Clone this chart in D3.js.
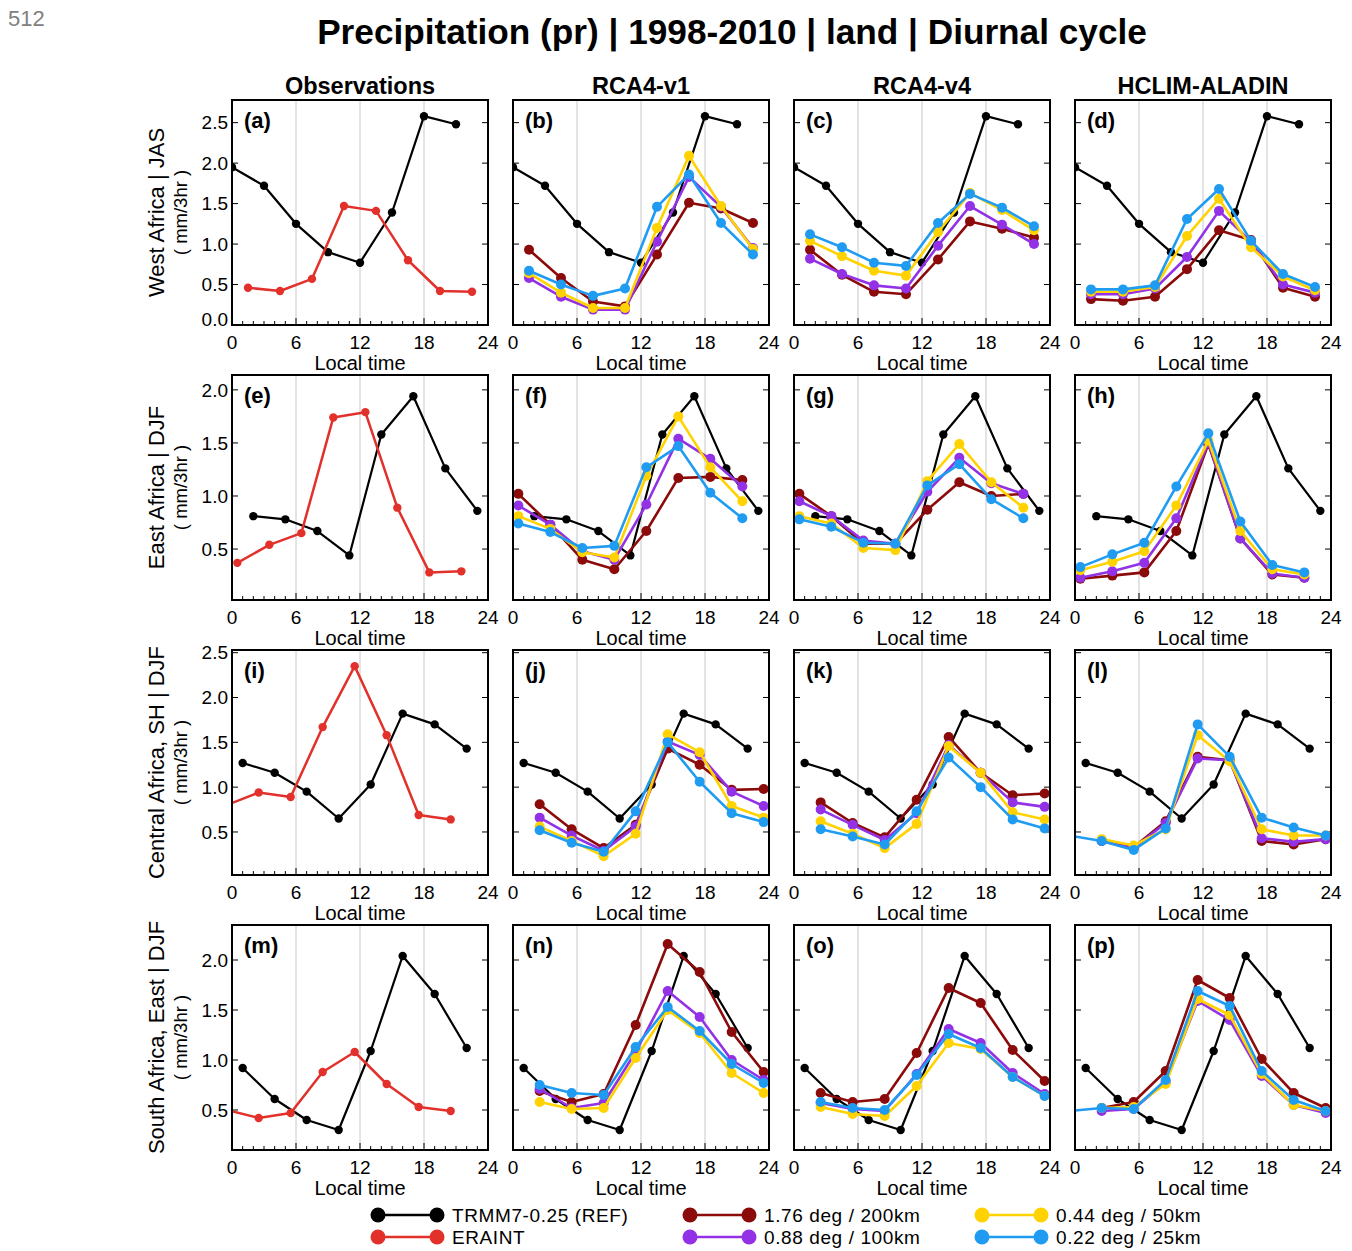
<!DOCTYPE html>
<html>
<head>
<meta charset="utf-8">
<script src="https://cdn.jsdelivr.net/npm/d3@7"></script>
<style>
    body { margin: 0; background: #fff; }
    svg text { font-family: "Liberation Sans", Arial, Helvetica, sans-serif; fill: #000; }
</style>
</head>
<body>
<svg id="chart" width="1352" height="1251"></svg>
<script>
// ---- data ----
const regions = ['West Africa | JAS', 'East Africa | DJF', 'Central Africa, SH | DJF', 'South Africa, East | DJF'];
const columns = ['Observations', 'RCA4-v1', 'RCA4-v4', 'HCLIM-ALADIN'];
const letters = ['a', 'b', 'c', 'd', 'e', 'f', 'g', 'h', 'i', 'j', 'k', 'l', 'm', 'n', 'o', 'p'];
const xTicks = [0, 6, 12, 18, 24];
const yDomains = [[0, 2.78], [0.02, 2.14], [0.02, 2.53], [0.1, 2.35]];
const yTicks = [[0, 0.5, 1, 1.5, 2, 2.5], [0.5, 1, 1.5, 2], [0.5, 1, 1.5, 2, 2.5], [0.5, 1, 1.5, 2]];

// TRMM (reference), local time
const trmmHoursWAF = [0, 3, 6, 9, 12, 15, 18, 21];
const trmmWAF = [1.95, 1.72, 1.25, 0.90, 0.77, 1.39, 2.58, 2.48];
const trmmHoursEAF = [2, 5, 8, 11, 14, 17, 20, 23];
const trmmEAF = [0.81, 0.78, 0.67, 0.44, 1.58, 1.94, 1.26, 0.86];
const trmmHoursCAF = [1, 4, 7, 10, 13, 16, 19, 22];
const trmmCAF = [1.27, 1.16, 0.95, 0.65, 1.03, 1.82, 1.70, 1.43];
const trmmHoursSAF = [1, 4, 7, 10, 13, 16, 19, 22];
const trmmSAF = [0.92, 0.61, 0.40, 0.30, 1.09, 2.04, 1.66, 1.12];

// ERAINT
const eraHoursWAF = [1.5, 4.5, 7.5, 10.5, 13.5, 16.5, 19.5, 22.5];
const eraWAF = [0.46, 0.42, 0.57, 1.47, 1.41, 0.80, 0.42, 0.41];
const eraHoursEAF = [0.5, 3.5, 6.5, 9.5, 12.5, 15.5, 18.5, 21.5];
const eraEAF = [0.37, 0.54, 0.65, 1.74, 1.79, 0.89, 0.28, 0.29];
const eraHoursCAF = [-0.5, 2.5, 5.5, 8.5, 11.5, 14.5, 17.5, 20.5];
const eraCAF = [0.80, 0.94, 0.89, 1.67, 2.35, 1.58, 0.69, 0.64];
const eraHoursSAF = [-0.5, 2.5, 5.5, 8.5, 11.5, 14.5, 17.5, 20.5];
const eraSAF = [0.50, 0.42, 0.47, 0.88, 1.08, 0.76, 0.53, 0.49];

// model output hours per region
const modelHoursWAF = [1.5, 4.5, 7.5, 10.5, 13.5, 16.5, 19.5, 22.5];
const modelHoursEAF = [0.5, 3.5, 6.5, 9.5, 12.5, 15.5, 18.5, 21.5];
const modelHoursCAF = [-0.5, 2.5, 5.5, 8.5, 11.5, 14.5, 17.5, 20.5, 23.5];
const modelHoursSAF = [-0.5, 2.5, 5.5, 8.5, 11.5, 14.5, 17.5, 20.5, 23.5];

// series order: 1.76 deg, 0.88 deg, 0.44 deg, 0.22 deg
const rca4v1WAF = [
    [0.93, 0.58, 0.29, 0.23, 0.87, 1.51, 1.44, 1.26],
    [0.58, 0.35, 0.19, 0.19, 1.03, 1.83, 1.46, 0.95],
    [0.64, 0.40, 0.21, 0.21, 1.20, 2.09, 1.47, 0.94],
    [0.67, 0.50, 0.36, 0.45, 1.46, 1.86, 1.26, 0.87]
];
const rca4v4WAF = [
    [0.93, 0.62, 0.41, 0.38, 0.81, 1.28, 1.19, 1.08],
    [0.82, 0.63, 0.49, 0.45, 0.98, 1.47, 1.24, 1.00],
    [1.04, 0.85, 0.67, 0.61, 1.15, 1.63, 1.42, 1.17],
    [1.12, 0.96, 0.77, 0.73, 1.26, 1.62, 1.45, 1.22]
];
const hclimWAF = [
    [0.32, 0.30, 0.35, 0.69, 1.17, 1.05, 0.46, 0.35],
    [0.38, 0.38, 0.45, 0.84, 1.41, 1.03, 0.50, 0.40],
    [0.41, 0.41, 0.47, 1.10, 1.56, 0.96, 0.60, 0.43],
    [0.44, 0.44, 0.49, 1.31, 1.68, 1.04, 0.63, 0.47]
];
const rca4v1EAF = [
    [1.02, 0.73, 0.40, 0.31, 0.67, 1.17, 1.18, 1.15],
    [0.91, 0.73, 0.48, 0.40, 0.92, 1.54, 1.35, 1.09],
    [0.81, 0.69, 0.47, 0.42, 1.19, 1.75, 1.27, 0.95],
    [0.74, 0.66, 0.51, 0.53, 1.27, 1.47, 1.03, 0.79]
];
const rca4v4EAF = [
    [1.02, 0.81, 0.55, 0.55, 0.87, 1.13, 1.00, 1.02],
    [0.95, 0.81, 0.58, 0.55, 1.04, 1.36, 1.12, 1.02],
    [0.81, 0.74, 0.51, 0.49, 1.14, 1.49, 1.13, 0.89],
    [0.78, 0.71, 0.56, 0.55, 1.10, 1.30, 0.97, 0.79]
];
const hclimEAF = [
    [0.22, 0.25, 0.28, 0.67, 1.49, 0.60, 0.26, 0.23],
    [0.23, 0.29, 0.37, 0.79, 1.50, 0.60, 0.27, 0.23],
    [0.30, 0.38, 0.48, 0.91, 1.52, 0.67, 0.31, 0.26],
    [0.33, 0.45, 0.56, 1.09, 1.59, 0.76, 0.35, 0.28]
];
const rca4v1CAF = [
    [null, 0.81, 0.53, 0.32, 0.58, 1.43, 1.25, 0.97, 0.98],
    [null, 0.66, 0.46, 0.29, 0.56, 1.51, 1.36, 0.95, 0.79],
    [null, 0.56, 0.40, 0.23, 0.48, 1.59, 1.39, 0.79, 0.66],
    [null, 0.52, 0.38, 0.28, 0.73, 1.50, 1.06, 0.71, 0.61]
];
const rca4v4CAF = [
    [null, 0.83, 0.60, 0.44, 0.86, 1.56, 1.16, 0.91, 0.93],
    [null, 0.75, 0.58, 0.41, 0.71, 1.47, 1.16, 0.83, 0.78],
    [null, 0.62, 0.48, 0.32, 0.59, 1.46, 1.16, 0.72, 0.64],
    [null, 0.53, 0.45, 0.36, 0.73, 1.33, 1.00, 0.64, 0.54]
];
const hclimCAF = [
    [null, 0.40, 0.33, 0.62, 1.34, 1.30, 0.40, 0.36, 0.42],
    [null, 0.40, 0.32, 0.60, 1.32, 1.30, 0.43, 0.39, 0.42],
    [null, 0.42, 0.35, 0.53, 1.58, 1.29, 0.53, 0.46, 0.46],
    [0.46, 0.40, 0.30, 0.54, 1.70, 1.34, 0.66, 0.55, 0.46]
];
const rca4v1SAF = [
    [null, 0.69, 0.58, 0.66, 1.35, 2.16, 1.88, 1.28, 0.88],
    [null, 0.71, 0.52, 0.57, 1.08, 1.69, 1.43, 1.00, 0.80],
    [null, 0.58, 0.51, 0.52, 1.02, 1.50, 1.27, 0.87, 0.67],
    [null, 0.75, 0.67, 0.65, 1.13, 1.53, 1.29, 0.96, 0.77]
];
const rca4v4SAF = [
    [null, 0.67, 0.58, 0.61, 1.07, 1.72, 1.57, 1.10, 0.79],
    [null, 0.57, 0.51, 0.49, 0.86, 1.31, 1.17, 0.87, 0.66],
    [null, 0.53, 0.46, 0.44, 0.74, 1.17, 1.11, 0.83, 0.64],
    [null, 0.58, 0.52, 0.50, 0.85, 1.26, 1.12, 0.83, 0.64]
];
const hclimSAF = [
    [null, 0.52, 0.58, 0.89, 1.80, 1.62, 1.01, 0.67, 0.52],
    [null, 0.49, 0.51, 0.78, 1.59, 1.40, 0.84, 0.55, 0.47],
    [null, 0.52, 0.53, 0.76, 1.61, 1.45, 0.86, 0.55, 0.49],
    [0.49, 0.52, 0.51, 0.80, 1.69, 1.54, 0.89, 0.60, 0.49]
];

const modelNames = ['1.76 deg / 200km', '0.88 deg / 100km', '0.44 deg / 50km', '0.22 deg / 25km'];
const modelColors = ['#8b0a0a', '#9331e6', '#ffd200', '#1f9cf2'];
const trmmColor = '#000000';
const eraColor = '#e2302b';

const trmmHours = [trmmHoursWAF, trmmHoursEAF, trmmHoursCAF, trmmHoursSAF];
const trmmValues = [trmmWAF, trmmEAF, trmmCAF, trmmSAF];
const eraHours = [eraHoursWAF, eraHoursEAF, eraHoursCAF, eraHoursSAF];
const eraValues = [eraWAF, eraEAF, eraCAF, eraSAF];
const modelHours = [modelHoursWAF, modelHoursEAF, modelHoursCAF, modelHoursSAF];
const modelPanels = [
    [rca4v1WAF, rca4v4WAF, hclimWAF],
    [rca4v1EAF, rca4v4EAF, hclimEAF],
    [rca4v1CAF, rca4v4CAF, hclimCAF],
    [rca4v1SAF, rca4v4SAF, hclimSAF]
];

// ---- layout ----
const svg = d3.select('#chart');
const panelW = 256, panelH = 225;
const colLeft = [232, 513, 794, 1075];
const rowTop = [100, 375, 650, 925];

svg.append('text')
    .attr('x', 8).attr('y', 26)
    .style('font-size', '22px')
    .style('fill', '#808080')
    .text('512');

let title = svg.append('text')
    .attr('x', 732).attr('y', 44)
    .attr('text-anchor', 'middle')
    .style('font-size', '32px')
    .style('font-weight', 'bold')
    .text('Precipitation (pr) | 1998-2010 | land | Diurnal cycle');
let tw = title.node().getComputedTextLength();
title.style('font-size', (32 * 830 / tw) + 'px');

columns.forEach((c, ci) => {
    svg.append('text')
        .attr('x', colLeft[ci] + panelW / 2).attr('y', 94)
        .attr('text-anchor', 'middle')
        .style('font-size', '23.5px')
        .style('font-weight', 'bold')
        .text(c);
});

function pairs(hours, values) {
    return hours.map((h, i) => ({ h: h, v: values[i] }));
}

function drawSeries(g, x, y, data, color, lw, r) {
    let line = d3.line()
        .defined(d => d.v != null)
        .x(d => x(d.h))
        .y(d => y(d.v));

    g.append('path')
        .datum(data)
        .attr('d', line)
        .attr('fill', 'none')
        .attr('stroke', color)
        .attr('stroke-width', lw)
        .attr('stroke-linejoin', 'round');

    g.selectAll(null)
        .data(data.filter(d => d.v != null))
        .enter()
        .append('circle')
        .attr('cx', d => x(d.h))
        .attr('cy', d => y(d.v))
        .attr('r', r)
        .attr('fill', color);
}

regions.forEach((region, ri) => {
    let top = rowTop[ri];
    let y = d3.scaleLinear().domain(yDomains[ri]).range([top + panelH, top]);

    // y axis title
    let cy = top + panelH / 2;
    svg.append('text')
        .attr('transform', `translate(164, ${cy}) rotate(-90)`)
        .attr('text-anchor', 'middle')
        .style('font-size', '22px')
        .text(region);
    svg.append('text')
        .attr('transform', `translate(187, ${cy}) rotate(-90)`)
        .attr('text-anchor', 'middle')
        .style('font-size', '18.5px')
        .text('( mm/3hr )');

    columns.forEach((col, ci) => {
        let left = colLeft[ci];
        let x = d3.scaleLinear().domain([0, 24]).range([left, left + panelW]);
        let id = 'clip' + ri + ci;

        svg.append('clipPath').attr('id', id)
            .append('rect')
            .attr('x', left).attr('y', top)
            .attr('width', panelW).attr('height', panelH);

        let g = svg.append('g');

        // grid lines
        g.selectAll(null)
            .data([6, 12, 18])
            .enter()
            .append('line')
            .attr('x1', d => x(d)).attr('x2', d => x(d))
            .attr('y1', top).attr('y2', top + panelH)
            .attr('stroke', '#c8c8c8')
            .attr('stroke-width', 1);

        // minor x ticks
        g.selectAll(null)
            .data(d3.range(1, 24))
            .enter()
            .append('line')
            .attr('x1', d => x(d)).attr('x2', d => x(d))
            .attr('y1', top + panelH)
            .attr('y2', d => top + panelH - (d % 6 === 0 ? 7 : 4))
            .attr('stroke', '#000')
            .attr('stroke-width', 1);

        // y ticks both sides
        yTicks[ri].forEach(t => {
            g.append('line')
                .attr('x1', left).attr('x2', left + 6)
                .attr('y1', y(t)).attr('y2', y(t))
                .attr('stroke', '#000');
            g.append('line')
                .attr('x1', left + panelW - 6).attr('x2', left + panelW)
                .attr('y1', y(t)).attr('y2', y(t))
                .attr('stroke', '#000');
        });

        let plot = g.append('g').attr('clip-path', `url(#${id})`);

        drawSeries(plot, x, y, pairs(trmmHours[ri], trmmValues[ri]), trmmColor, 2.2, 4.2);
        if (ci === 0) {
            drawSeries(plot, x, y, pairs(eraHours[ri], eraValues[ri]), eraColor, 2.5, 4.2);
        } else {
            modelPanels[ri][ci - 1].forEach((s, si) => {
                drawSeries(plot, x, y, pairs(modelHours[ri], s), modelColors[si], 2.6, 5);
            });
        }

        // frame
        g.append('rect')
            .attr('x', left).attr('y', top)
            .attr('width', panelW).attr('height', panelH)
            .attr('fill', 'none')
            .attr('stroke', '#000')
            .attr('stroke-width', 2);

        // panel letter
        g.append('text')
            .attr('x', left + 12).attr('y', top + 28)
            .style('font-size', '22px')
            .style('font-weight', 'bold')
            .text('(' + letters[ri * 4 + ci] + ')');

        // y tick labels, first column only
        if (ci === 0) {
            g.selectAll(null)
                .data(yTicks[ri])
                .enter()
                .append('text')
                .attr('x', left - 4)
                .attr('y', d => Math.min(y(d), top + panelH - 6))
                .attr('dy', '0.35em')
                .attr('text-anchor', 'end')
                .style('font-size', '19px')
                .text(d => d3.format('.1f')(d));
        }

        // x tick labels
        g.selectAll(null)
            .data(xTicks)
            .enter()
            .append('text')
            .attr('x', d => x(d))
            .attr('y', top + panelH + 24)
            .attr('text-anchor', 'middle')
            .style('font-size', '19px')
            .text(d => d);

        g.append('text')
            .attr('x', left + panelW / 2)
            .attr('y', top + panelH + 45)
            .attr('text-anchor', 'middle')
            .style('font-size', '20px')
            .text('Local time');
    });
});

// ---- legend ----
const legendItems = [
    { name: 'TRMM7-0.25 (REF)', color: trmmColor, col: 0, row: 0 },
    { name: 'ERAINT', color: eraColor, col: 0, row: 1 },
    { name: modelNames[0], color: modelColors[0], col: 1, row: 0 },
    { name: modelNames[1], color: modelColors[1], col: 1, row: 1 },
    { name: modelNames[2], color: modelColors[2], col: 2, row: 0 },
    { name: modelNames[3], color: modelColors[3], col: 2, row: 1 }
];
const legendX = [378, 690, 982];
const legendY = [1215, 1237];

let legend = svg.append('g');
legendItems.forEach(item => {
    let lx = legendX[item.col], ly = legendY[item.row];
    legend.append('line')
        .attr('x1', lx).attr('x2', lx + 59)
        .attr('y1', ly).attr('y2', ly)
        .attr('stroke', item.color)
        .attr('stroke-width', 2.5);
    [lx, lx + 59].forEach(cx => {
        legend.append('circle')
            .attr('cx', cx).attr('cy', ly).attr('r', 7.5)
            .attr('fill', item.color);
    });
    legend.append('text')
        .attr('x', lx + 74).attr('y', ly)
        .attr('dy', '0.35em')
        .style('font-size', '19px')
        .style('letter-spacing', '0.6px')
        .text(item.name);
});
</script>
</body>
</html>
